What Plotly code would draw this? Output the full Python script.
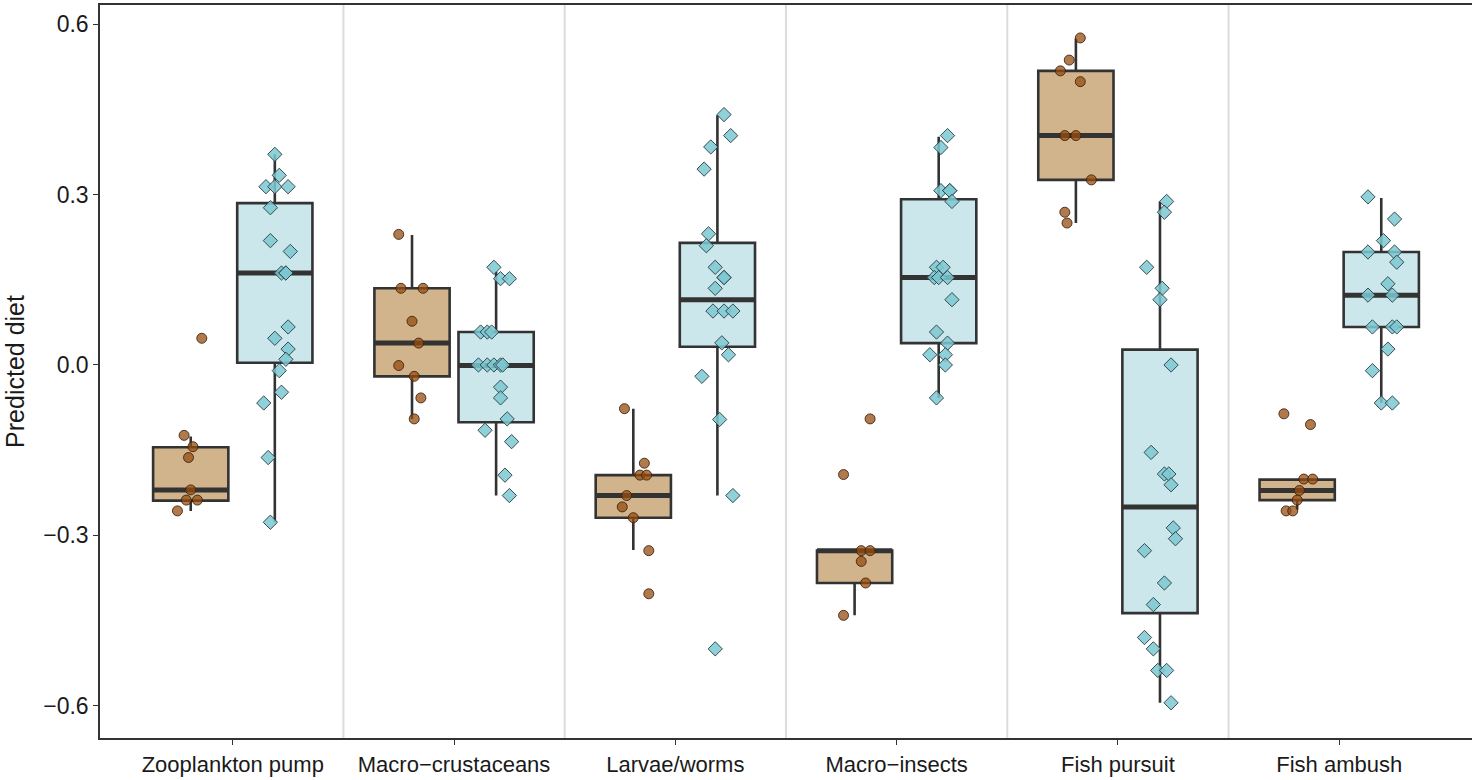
import plotly.graph_objects as go

categories = ["Zooplankton pump", "Macro\u2212crustaceans", "Larvae/worms",
              "Macro\u2212insects", "Fish pursuit", "Fish ambush"]

# Box statistics: [lower whisker, q1, median, q3, upper whisker]
brown_low = [-0.257, -0.095, -0.326, -0.441, 0.250, -0.255]
brown_q1 = [-0.239, -0.020, -0.269, -0.384, 0.326, -0.238]
brown_med = [-0.220, 0.0385, -0.230, -0.327, 0.404, -0.221]
brown_q3 = [-0.145, 0.135, -0.194, -0.327, 0.518, -0.202]
brown_high = [-0.126, 0.229, -0.077, -0.327, 0.575, -0.202]

blue_low = [-0.277, -0.230, -0.230, -0.058, -0.595, -0.067]
blue_q1 = [0.004, -0.101, 0.032, 0.0385, -0.437, 0.067]
blue_med = [0.162, -0.001, 0.115, 0.154, -0.250, 0.123]
blue_q3 = [0.285, 0.058, 0.215, 0.292, 0.027, 0.199]
blue_high = [0.371, 0.164, 0.440, 0.402, 0.288, 0.294]

# Individual points (values) and horizontal jitter (category units)
brown_pts = [
    [0.047, -0.124, -0.144, -0.163, -0.220, -0.238, -0.238, -0.257],
    [0.230, 0.135, 0.135, 0.077, 0.0385, -0.001, -0.020, -0.058, -0.095],
    [-0.077, -0.173, -0.194, -0.194, -0.230, -0.250, -0.269, -0.327, -0.403],
    [-0.095, -0.193, -0.327, -0.327, -0.346, -0.384, -0.441],
    [0.576, 0.537, 0.518, 0.499, 0.404, 0.404, 0.326, 0.269, 0.250],
    [-0.086, -0.105, -0.201, -0.201, -0.221, -0.238, -0.257, -0.257],
]
brown_jit = [
    [0.05, -0.03, 0.01, -0.01, 0.00, -0.02, 0.03, -0.06],
    [-0.06, -0.05, 0.05, 0.00, 0.03, -0.06, 0.01, 0.04, 0.01],
    [-0.04, 0.05, 0.03, 0.06, -0.03, -0.05, 0.00, 0.07, 0.07],
    [0.07, -0.05, 0.03, 0.07, 0.03, 0.05, -0.05],
    [0.02, -0.03, -0.07, 0.02, -0.05, 0.00, 0.07, -0.05, -0.04],
    [-0.06, 0.06, 0.03, 0.07, 0.01, 0.00, -0.05, -0.02],
]
blue_pts = [
    [0.371, 0.334, 0.314, 0.314, 0.314, 0.277, 0.219, 0.200, 0.162, 0.162,
     0.162, 0.067, 0.047, 0.028, 0.010, -0.010, -0.048, -0.067, -0.163, -0.277],
    [0.172, 0.152, 0.152, 0.058, 0.058, 0.058, 0.0, 0.0, 0.0, 0.0, 0.0,
     -0.039, -0.058, -0.095, -0.115, -0.135, -0.194, -0.230],
    [0.441, 0.404, 0.384, 0.345, 0.231, 0.210, 0.172, 0.154, 0.154, 0.135,
     0.095, 0.095, 0.095, 0.039, 0.018, -0.020, -0.096, -0.230, -0.500],
    [0.404, 0.383, 0.307, 0.307, 0.307, 0.288, 0.172, 0.172, 0.154, 0.154,
     0.154, 0.115, 0.058, 0.0385, 0.018, 0.018, 0.0, -0.058],
    [0.288, 0.269, 0.172, 0.135, 0.115, 0.0, -0.154, -0.192, -0.192, -0.211,
     -0.287, -0.306, -0.327, -0.384, -0.422, -0.480, -0.500, -0.538, -0.538, -0.595],
    [0.296, 0.257, 0.219, 0.199, 0.199, 0.181, 0.143, 0.123, 0.123, 0.067,
     0.067, 0.067, 0.028, -0.010, -0.067, -0.067],
]
blue_jit = [
    [0.00, 0.02, -0.04, 0.00, 0.06, -0.02, -0.02, 0.07, 0.03, 0.05,
     0.05, 0.06, 0.00, 0.06, 0.05, 0.02, 0.03, -0.05, -0.03, -0.02],
    [-0.01, 0.02, 0.06, -0.07, -0.04, -0.02, -0.08, -0.04, -0.01, 0.02, 0.03,
     0.02, 0.02, 0.05, -0.05, 0.07, 0.04, 0.06],
    [0.03, 0.06, -0.03, -0.06, -0.04, -0.05, -0.01, 0.03, 0.03, -0.01,
     -0.02, 0.03, 0.07, 0.02, 0.05, -0.07, 0.01, 0.07, -0.01],
    [0.04, 0.01, 0.01, 0.05, 0.05, 0.06, -0.01, 0.02, -0.02, 0.00,
     0.04, 0.06, -0.01, 0.04, -0.04, 0.03, 0.03, -0.01],
    [0.03, 0.02, -0.06, 0.01, 0.00, 0.05, -0.04, 0.02, 0.04, 0.05,
     0.06, 0.07, -0.07, 0.02, -0.03, -0.07, -0.03, -0.01, 0.03, 0.05],
    [-0.06, 0.06, 0.01, -0.06, 0.06, 0.07, 0.03, -0.06, 0.05, -0.04,
     0.05, 0.07, 0.03, -0.04, 0.00, 0.05],
]

DODGE = 0.19
BOXW = 0.34
EDGE = "#333333"
TXT = "#1a1a1a"

groups = [
    dict(off=-DODGE, low=brown_low, q1=brown_q1, med=brown_med, q3=brown_q3, high=brown_high,
         fill="#D2B48C", pts=brown_pts, jit=brown_jit, symbol="circle", size=10,
         mcolor="rgba(150,78,18,0.75)", mline="rgba(60,30,10,0.85)"),
    dict(off=DODGE, low=blue_low, q1=blue_q1, med=blue_med, q3=blue_q3, high=blue_high,
         fill="#CBE7EB", pts=blue_pts, jit=blue_jit, symbol="diamond", size=11,
         mcolor="rgba(125,200,210,0.85)", mline="rgba(40,60,65,0.9)"),
]

fig = go.Figure()
n = len(categories)

for g in groups:
    xs = [i + g["off"] for i in range(n)]
    fig.add_trace(go.Box(
        x=xs, q1=g["q1"], median=g["med"], q3=g["q3"],
        lowerfence=g["low"], upperfence=g["high"],
        width=BOXW, whiskerwidth=0, fillcolor=g["fill"],
        line=dict(color=EDGE, width=2.6), boxpoints=False,
        showlegend=False, hoverinfo="skip"))
    # thicker median line
    for i in range(n):
        fig.add_trace(go.Scatter(
            x=[xs[i] - BOXW / 2, xs[i] + BOXW / 2], y=[g["med"][i], g["med"][i]],
            mode="lines", line=dict(color=EDGE, width=5),
            showlegend=False, hoverinfo="skip"))

for g in groups:
    px, py = [], []
    for i in range(n):
        for v, j in zip(g["pts"][i], g["jit"][i]):
            px.append(i + g["off"] + j)
            py.append(v)
    fig.add_trace(go.Scatter(
        x=px, y=py, mode="markers",
        marker=dict(symbol=g["symbol"], size=g["size"], color=g["mcolor"],
                    line=dict(color=g["mline"], width=1)),
        showlegend=False, hoverinfo="skip"))

shapes = []
for i in range(n - 1):
    shapes.append(dict(type="line", xref="x", yref="paper", x0=i + 0.5, x1=i + 0.5,
                       y0=0, y1=1, line=dict(color="#DCDCDC", width=2), layer="below"))

fig.update_layout(
    width=1472, height=780,
    margin=dict(l=100, r=0, t=5, b=42, autoexpand=False),
    paper_bgcolor="white", plot_bgcolor="white",
    font=dict(family="Liberation Sans, Arial, sans-serif", size=23, color=TXT),
    shapes=shapes,
    xaxis=dict(range=[-0.6, 5.6], tickmode="array", tickvals=list(range(n)),
               ticktext=categories, showgrid=False, zeroline=False, automargin=False,
               showline=True, mirror=True, linecolor=EDGE, linewidth=1.5,
               ticks="outside", ticklen=5, tickcolor=EDGE, ticklabelstandoff=1,
               tickfont=dict(size=22, color=TXT)),
    yaxis=dict(range=[-0.657, 0.634], tickmode="array", automargin=False,
               tickvals=[-0.6, -0.3, 0.0, 0.3, 0.6],
               ticktext=["\u22120.6", "\u22120.3", "0.0", "0.3", "0.6"],
               showgrid=False, zeroline=False,
               showline=True, mirror=True, linecolor=EDGE, linewidth=1.5,
               ticks="outside", ticklen=5, tickcolor=EDGE,
               tickfont=dict(size=23, color=TXT),
               title=dict(text="Predicted diet", font=dict(size=25, color=TXT), standoff=11)),
)

fig.write_html("out.html", config={"displayModeBar": False},
               post_script="document.body.style.margin='0px';")
